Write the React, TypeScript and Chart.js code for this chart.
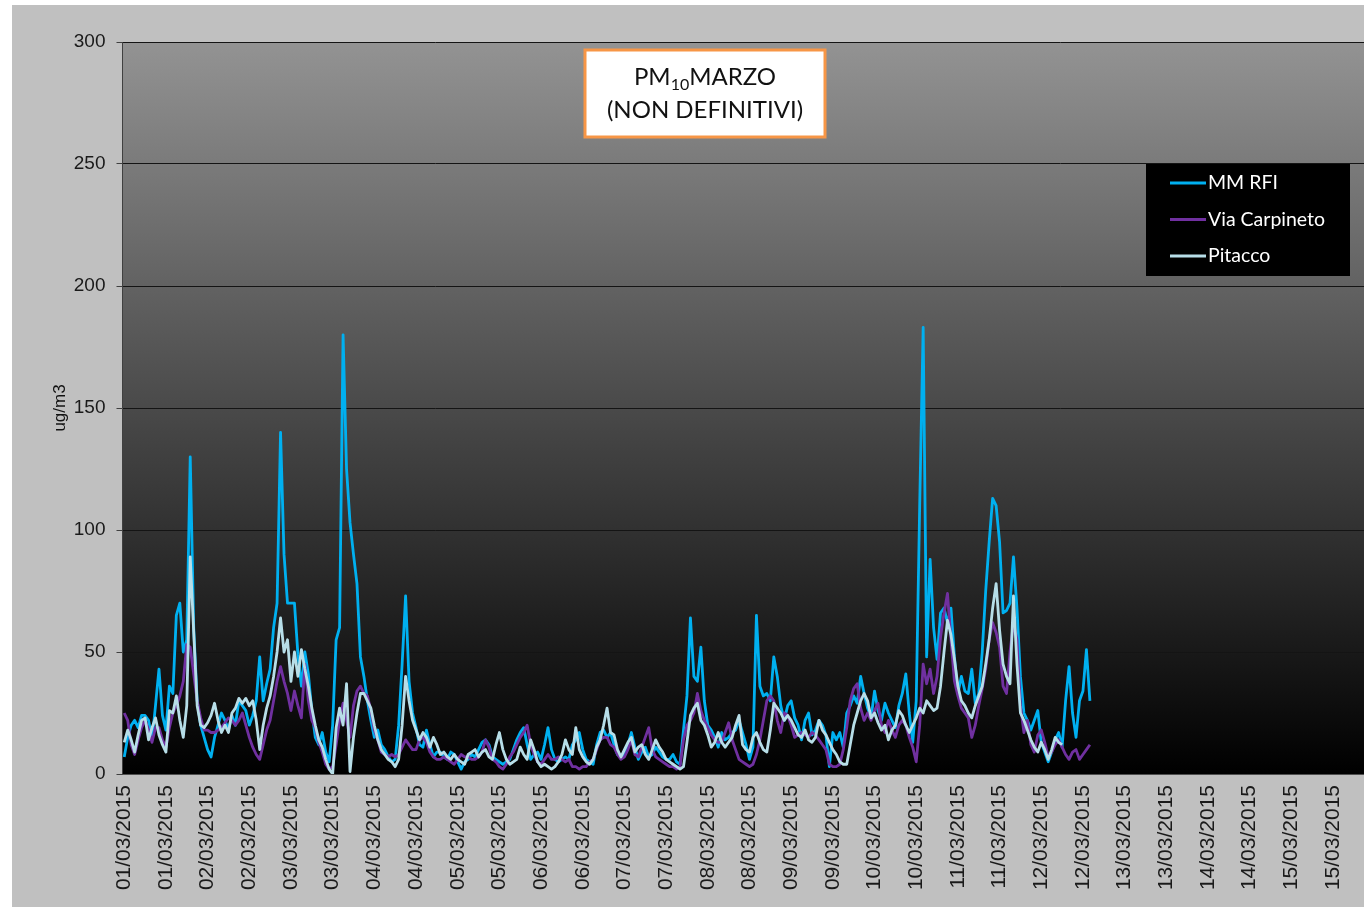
import React, { useEffect, useRef } from 'react';
import { Chart, registerables } from 'chart.js';

Chart.register(...registerables);

// ---------------- DATA ----------------
const DAYS = [
  '01/03/2015', '02/03/2015', '03/03/2015', '04/03/2015', '05/03/2015',
  '06/03/2015', '07/03/2015', '08/03/2015', '09/03/2015', '10/03/2015',
  '11/03/2015', '12/03/2015', '13/03/2015', '14/03/2015', '15/03/2015',
];

const TICK_LABELS = [
  '01/03/2015', '01/03/2015', '02/03/2015', '02/03/2015', '03/03/2015', '03/03/2015',
  '04/03/2015', '04/03/2015', '05/03/2015', '05/03/2015', '06/03/2015', '06/03/2015',
  '07/03/2015', '07/03/2015', '08/03/2015', '08/03/2015', '09/03/2015', '09/03/2015',
  '10/03/2015', '10/03/2015', '11/03/2015', '11/03/2015', '12/03/2015', '12/03/2015',
  '13/03/2015', '13/03/2015', '14/03/2015', '14/03/2015', '15/03/2015', '15/03/2015',
];

const SERIES_NAMES = ['MM RFI', 'Via Carpineto', 'Pitacco'];

// hourly values, ug/m3, from 01/03/2015 00:00
const MM_RFI = [
  7, 15, 20, 22, 19, 24, 24, 22, 14, 28,
  43, 24, 18, 36, 33, 65, 70, 50, 55, 130,
  60, 30, 20, 15, 10, 7, 15, 20, 25, 22,
  18, 24, 20, 30, 28,
  26, 20, 24, 30, 48, 30, 37, 43, 60, 70,
  140, 90, 70, 70, 70, 49, 36, 50, 41, 26,
  15, 12, 17, 9, 5, 20, 55, 60, 180, 125,
  103, 90, 78, 48, 40, 30,
  22, 15, 18, 12, 10, 7, 5, 6, 20, 45,
  73, 38, 25, 19, 12, 11, 18, 12, 7, 9,
  9, 7, 6, 9, 8, 5, 2, 5, 6, 8,
  7, 10, 13, 14, 12,
  7, 6, 5, 4, 5, 6, 10, 14, 17, 19,
  12, 6, 8, 9, 6, 12, 19, 10, 6, 5,
  6, 7, 6, 12, 14, 17, 10, 6, 5, 4,
  12, 17, 18, 15, 17, 12, 8,
  7, 8, 12, 17, 11, 6, 9, 11, 7, 8,
  11, 9, 7, 6, 6, 8, 5, 4, 18, 32,
  64, 40, 38, 52, 30, 20, 18, 15, 11, 17,
  14, 15, 17, 18, 22,
  17, 12, 6, 11, 65, 36, 32, 33, 30, 48,
  40, 28, 22, 28, 30, 23, 20, 14, 22, 25,
  16, 18, 22, 20, 16, 3, 17, 14, 17, 11,
  25, 28, 32, 29, 40, 33, 27,
  23, 34, 26, 22, 29, 25, 22, 19, 28, 33,
  41, 25, 13, 30, 110, 183, 48, 88, 60, 47,
  66, 68, 62, 68, 48, 33, 40, 34, 33, 43,
  29, 33, 50, 75, 95, 113,
  110, 95, 66, 67, 70, 89, 68, 40, 25, 22,
  18, 22, 26, 13, 9, 5, 9, 14, 17, 11,
  30, 44, 25, 15, 30, 34, 51, 30,
];

const VIA_CARPINETO = [
  25, 22, 12, 8, 14, 19, 22, 18, 13, 19,
  19, 14, 11, 19, 25, 28, 32, 38, 53, 52,
  41, 30, 23, 18, 18, 17, 17, 18, 19, 21,
  23, 22, 20, 22, 25,
  20, 15, 11, 8, 6, 12, 18, 22, 30, 38,
  44, 38, 33, 26, 34, 28, 23, 45, 30, 22,
  19, 13, 9, 4, 2, 3, 12, 22, 29, 22,
  15, 28, 34, 36, 33, 32,
  26, 18, 14, 9, 8, 7, 8, 7, 8, 11,
  14, 12, 10, 10, 14, 15, 13, 9, 7, 6,
  6, 7, 6, 5, 4, 6, 8, 7, 7, 6,
  6, 7, 9, 14, 11,
  6, 5, 3, 2, 4, 7, 9, 12, 15, 17,
  20, 12, 8, 5, 4, 6, 8, 6, 6, 7,
  6, 5, 6, 3, 3, 2, 3, 3, 5, 6,
  10, 14, 15, 15, 12, 11, 8,
  6, 7, 10, 14, 8, 7, 11, 15, 19, 10,
  7, 6, 5, 4, 3, 3, 2, 3, 14, 20,
  22, 25, 33, 26, 22, 19, 16, 14, 13, 13,
  17, 21, 14, 10, 6,
  5, 4, 3, 4, 8, 14, 22, 30, 32, 30,
  22, 17, 25, 24, 20, 15, 16, 17, 16, 15,
  17, 16, 14, 12, 10, 4, 3, 3, 4, 10,
  19, 30, 35, 37, 27, 22, 25,
  22, 26, 29, 20, 17, 22, 18, 15, 20, 22,
  20, 15, 11, 5, 20, 45, 37, 43, 33, 40,
  56, 66, 74, 55, 38, 32, 27, 25, 23, 15,
  20, 28, 35, 43, 55, 62,
  58, 52, 36, 33, 50, 62, 55, 28, 17, 22,
  12, 9, 16, 18, 13, 7, 9, 12, 14, 11,
  8, 6, 9, 10, 6, 8, 10, 12,
];

const PITACCO = [
  13, 18, 14, 9, 16, 22, 23, 14, 19, 23,
  16, 12, 9, 26, 25, 32, 22, 15, 28, 89,
  58, 28, 20, 19, 21, 24, 29, 22, 17, 20,
  17, 25, 27, 31, 29,
  31, 28, 30, 22, 10, 20, 27, 32, 40, 50,
  64, 50, 55, 38, 50, 40, 51, 43, 36, 27,
  20, 14, 11, 6, 2, 0, 19, 27, 20, 37,
  1, 15, 25, 33, 33, 30,
  27, 20, 14, 10, 8, 6, 5, 3, 6, 20,
  40, 30, 22, 18, 14, 17, 15, 11, 15, 12,
  8, 9, 7, 6, 8, 6, 5, 4, 8, 9,
  10, 7, 9, 10, 7,
  6, 12, 17, 10, 6, 4, 5, 6, 11, 8,
  6, 14, 10, 5, 3, 4, 3, 2, 3, 5,
  8, 14, 10, 8, 19, 10, 7, 5, 4, 6,
  11, 14, 20, 27, 17, 16, 10,
  7, 10, 13, 15, 9, 11, 12, 8, 6, 10,
  14, 11, 9, 6, 5, 4, 3, 2, 3, 13,
  24, 27, 29, 22, 20, 16, 11, 13, 17, 13,
  11, 13, 15, 20, 24,
  12, 10, 9, 15, 17, 13, 10, 9, 18, 29,
  27, 25, 22, 24, 22, 19, 16, 15, 18, 14,
  13, 15, 22, 18, 16, 13, 10, 8, 5, 4,
  4, 12, 20, 25, 30, 33, 30,
  23, 25, 21, 18, 20, 14, 18, 20, 26, 24,
  20, 17, 20, 23, 27, 25, 30, 28, 26, 27,
  36, 50, 63, 57, 47, 36, 30, 28, 25, 23,
  28, 32, 36, 45, 55, 68,
  78, 59, 45, 40, 37, 73, 45, 25, 22, 18,
  14, 11, 9, 13, 10, 6, 10, 15, 13, 12,
];

const Y_MIN = 0;
const Y_MAX = 300;
const Y_STEP = 50;
const Y_TITLE = 'ug/m3';
const TITLE_MAIN = 'PM';
const TITLE_SUB = '10';
const TITLE_REST = 'MARZO';
const TITLE_LINE2 = '(NON DEFINITIVI)';

// ---------------- STYLE ----------------
const COLORS = ['#00b0f0', '#7030a0', '#b7dee8'];
const AXIS_FONT = "'Liberation Sans', Arial, sans-serif";
const BOX_FONT = "Lato, 'Open Sans', sans-serif";

const CATEGORIES = DAYS.flatMap((d) =>
  Array.from({ length: 24 }, (_, h) => `${d} ${String(h).padStart(2, '0')}:00`)
);

const backgroundPlugin = {
  id: 'bgPlugin',
  beforeDraw(chart: any) {
    const { ctx, chartArea, width, height } = chart;
    ctx.save();
    ctx.fillStyle = '#c0c0c0';
    ctx.fillRect(0, 0, width, height);
    const g = ctx.createLinearGradient(0, chartArea.top, 0, chartArea.bottom);
    g.addColorStop(0, '#939393');
    g.addColorStop(1, '#000000');
    ctx.fillStyle = g;
    ctx.fillRect(chartArea.left, chartArea.top, chartArea.right - chartArea.left, chartArea.bottom - chartArea.top);
    ctx.restore();
  },
};

const overlayPlugin = {
  id: 'overlayPlugin',
  afterDraw(chart: any) {
    const { ctx } = chart;
    ctx.save();
    // title box
    const bx = 573, by = 45, bw = 240, bh = 87;
    ctx.fillStyle = '#ffffff';
    ctx.fillRect(bx, by, bw, bh);
    ctx.strokeStyle = '#f79646';
    ctx.lineWidth = 3;
    ctx.strokeRect(bx, by, bw, bh);
    ctx.fillStyle = '#111111';
    ctx.textBaseline = 'alphabetic';
    const big = `24px ${BOX_FONT}`;
    const small = `16px ${BOX_FONT}`;
    ctx.font = big;
    const w1 = ctx.measureText(TITLE_MAIN).width;
    const w3 = ctx.measureText(TITLE_REST).width;
    ctx.font = small;
    const w2 = ctx.measureText(TITLE_SUB).width;
    const cx = bx + bw / 2;
    let x = cx - (w1 + w2 + w3) / 2;
    const base1 = 80;
    ctx.textAlign = 'left';
    ctx.font = big;
    ctx.fillText(TITLE_MAIN, x, base1);
    x += w1;
    ctx.font = small;
    ctx.fillText(TITLE_SUB, x, base1 + 5);
    x += w2;
    ctx.font = big;
    ctx.fillText(TITLE_REST, x, base1);
    ctx.textAlign = 'center';
    ctx.fillText(TITLE_LINE2, cx, 113);

    // legend
    const lx = 1134, ly = 159, lw = 204, lh = 112;
    ctx.fillStyle = '#000000';
    ctx.fillRect(lx, ly, lw, lh);
    ctx.font = `19.5px ${BOX_FONT}`;
    ctx.textAlign = 'left';
    ctx.textBaseline = 'middle';
    chart.data.datasets.forEach((ds: any, i: number) => {
      const yy = 178 + i * 36.5;
      ctx.strokeStyle = ds.borderColor;
      ctx.lineWidth = 3;
      ctx.beginPath();
      ctx.moveTo(1158, yy);
      ctx.lineTo(1194, yy);
      ctx.stroke();
      ctx.fillStyle = '#ffffff';
      ctx.fillText(ds.label, 1196, yy);
    });
    ctx.restore();
  },
};

export default function App() {
  const ref = useRef<HTMLCanvasElement>(null);

  useEffect(() => {
    if (!ref.current) return;
    const mk = (label: string, data: number[], color: string, order: number) => ({
      label,
      data,
      borderColor: color,
      backgroundColor: color,
      borderWidth: 2.8,
      pointRadius: 0,
      tension: 0,
      borderJoinStyle: 'round' as const,
      fill: false,
      order,
    });
    const chart = new Chart(ref.current, {
      type: 'line',
      data: {
        labels: CATEGORIES,
        datasets: [
          mk(SERIES_NAMES[0], MM_RFI, COLORS[0], 2),
          mk(SERIES_NAMES[1], VIA_CARPINETO, COLORS[1], 1),
          mk(SERIES_NAMES[2], PITACCO, COLORS[2], 0),
        ],
      },
      options: {
        animation: false,
        responsive: false,
        devicePixelRatio: 1,
        layout: { padding: { top: 37, right: 5, left: 0, bottom: 0 } },
        plugins: {
          legend: { display: false },
          tooltip: { enabled: false },
        },
        scales: {
          x: {
            type: 'category',
            offset: true,
            grid: { display: false, drawTicks: false },
            border: { display: true, color: '#505050' },
            ticks: {
              autoSkip: false,
              maxRotation: 90,
              minRotation: 90,
              padding: 11,
              color: '#1a1a1a',
              font: { size: 21, family: AXIS_FONT },
              callback: (_v: any, i: number) => (i % 12 === 0 ? TICK_LABELS[i / 12] : null),
            },
            afterFit: (s: any) => {
              s.height = 133;
            },
          },
          y: {
            min: Y_MIN,
            max: Y_MAX,
            ticks: {
              stepSize: Y_STEP,
              padding: 11,
              color: '#1a1a1a',
              font: { size: 19, family: AXIS_FONT },
            },
            grid: { color: '#141414', tickColor: '#404040', tickLength: 6, lineWidth: 1 },
            border: { color: '#404040' },
            title: {
              display: true,
              text: Y_TITLE,
              color: '#111111',
              font: { size: 17, family: AXIS_FONT },
              padding: { top: 38, bottom: 0 },
            },
            afterFit: (s: any) => {
              s.width = 110.5;
            },
          },
        },
      },
      plugins: [backgroundPlugin, overlayPlugin],
    });
    return () => chart.destroy();
  }, []);

  return (
    <div
      style={{
        position: 'fixed',
        left: 0,
        top: 0,
        width: 1364,
        height: 908,
        overflow: 'hidden',
        background: '#ffffff',
      }}
    >
      <canvas
        ref={ref}
        width={1366}
        height={902}
        style={{ position: 'absolute', left: 12, top: 5, width: 1366, height: 902 }}
      />
    </div>
  );
}
